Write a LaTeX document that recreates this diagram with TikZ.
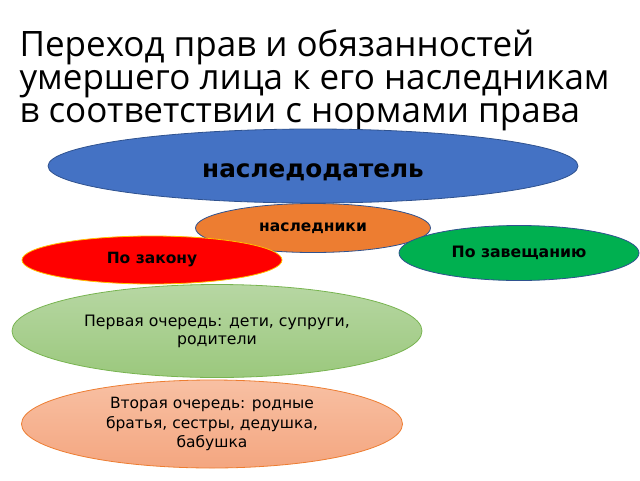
\documentclass[tikz,border=0pt]{standalone}
\usepackage{fontspec}
\setmainfont{DejaVu Sans}
\newfontfamily\titlefont{Open Sans}
\usetikzlibrary{shapes.geometric}
\definecolor{oblue}{RGB}{68, 114, 196}
\definecolor{oblueD}{RGB}{47, 82, 143}
\definecolor{oorange}{RGB}{237, 125, 49}
\definecolor{ogreen}{RGB}{0, 176, 80}
\definecolor{ored}{RGB}{255, 0, 0}
\definecolor{oyellow}{RGB}{255, 192, 0}
\definecolor{lgreenT}{RGB}{183, 215, 163}
\definecolor{lgreenB}{RGB}{155, 200, 125}
\definecolor{lgreenD}{RGB}{120, 180, 80}
\definecolor{salmonT}{RGB}{248, 192, 163}
\definecolor{salmonB}{RGB}{244, 166, 128}

\begin{document}
\begin{tikzpicture}[x = 1pt, y = -1pt,
	oval/.style = {ellipse, inner sep = 0pt, line width = 0.8pt, align = center}]
			\useasboundingbox (0,0) rectangle (640,480);
			\node (title) at (16,122) [anchor = base west, align = left, font = \titlefont\fontsize{35}{33}\selectfont]
				{Переход прав и обязанностей\\умершего лица к его наследникам\\в соответствии с нормами права};
			\node (owner) at (313,166) [oval, fill = oblue, draw = oblueD, minimum width = 530pt, minimum height = 74pt,
				text height = 22pt, text depth = 0pt, font = \bfseries\fontsize{24.7}{28}\selectfont] {наследодатель};
			\node (heirs) at (313,228) [oval, fill = oorange, draw = oblueD, minimum width = 235pt, minimum height = 49pt,
				font = \bfseries\fontsize{15.5}{18}\selectfont] {наследники};
			\node (will) at (519,253) [oval, fill = ogreen, draw = oblueD, minimum width = 240pt, minimum height = 55pt,
				font = \bfseries\fontsize{15.7}{18}\selectfont] {По завещанию};
			\node (law) at (152,260) [oval, fill = ored, draw = oyellow, minimum width = 260pt, minimum height = 48pt,
				font = \bfseries\fontsize{15.5}{18}\selectfont] {По закону};
			\node (first) at (217,331) [oval, top color = lgreenT, bottom color = lgreenB, draw = lgreenD,
				minimum width = 410pt, minimum height = 93pt, font = \fontsize{15.7}{18}\selectfont]
				{Первая очередь: дети, супруги,\\родители};
			\node (second) at (212,424) [oval, top color = salmonT, bottom color = salmonB, draw = oorange,
				minimum width = 381pt, minimum height = 88pt, font = \fontsize{15.5}{19.5}\selectfont]
				{Вторая очередь: родные\\братья, сестры, дедушка,\\бабушка};
			\end{tikzpicture}
\end{document}
